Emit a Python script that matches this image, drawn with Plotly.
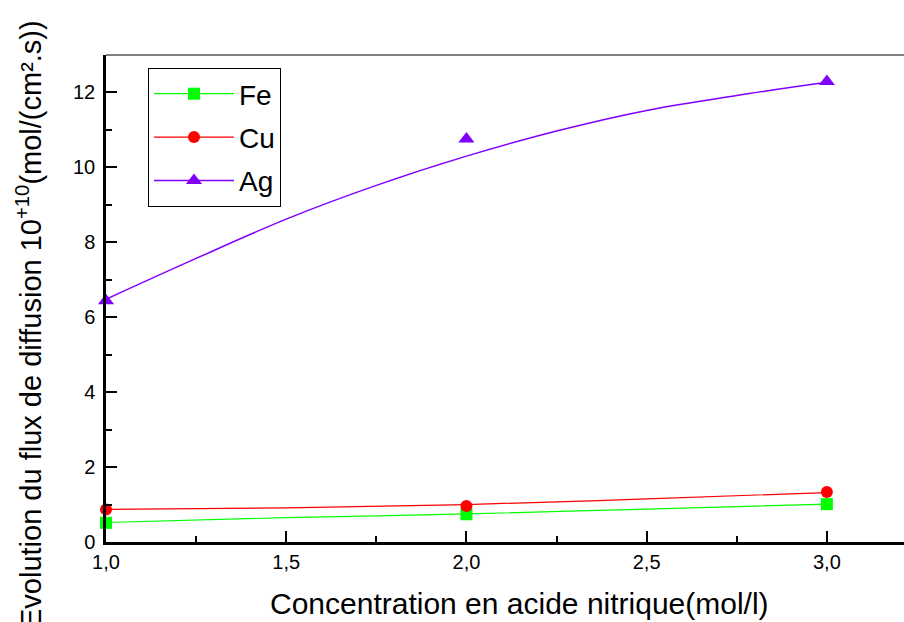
import plotly.graph_objects as go

# measured data
conc = [1.0, 2.0, 3.0]
fe = [0.51, 0.74, 1.01]
cu = [0.87, 0.96, 1.335]
ag = [6.44, 10.76, 12.29]

# fitted curves
fit_x_small = [1.0, 1.5, 2.0, 2.5, 3.0]
fe_fit = [0.52, 0.65, 0.75, 0.88, 1.01]
cu_fit = [0.87, 0.91, 1.00, 1.15, 1.32]
fit_x_ag = [1.0, 1.25, 1.5, 1.75, 2.0, 2.25, 2.5, 2.75, 3.0]
ag_fit = [6.48, 7.57, 8.62, 9.52, 10.30, 10.97, 11.52, 11.92, 12.27]

names = ["Fe", "Cu", "Ag"]
colors = ["#00ff00", "#ff0000", "#8000ff"]
symbols = ["square", "circle", "triangle-up"]
msizes = [12, 12, 14]
lwidths = [1.2, 1.2, 1.5]

series = [fe, cu, ag]
fits = [(fit_x_small, fe_fit), (fit_x_small, cu_fit), (fit_x_ag, ag_fit)]

FONT = "Liberation Sans, Arial, sans-serif"

fig = go.Figure()
for i, name in enumerate(names):
    fx, fy = fits[i]
    fig.add_trace(go.Scatter(
        x=fx, y=fy, mode="lines", line=dict(color=colors[i], width=lwidths[i], shape="spline"),
        showlegend=False, hoverinfo="skip"))
    fig.add_trace(go.Scatter(
        x=conc, y=series[i], mode="markers",
        marker=dict(symbol=symbols[i], size=msizes[i], color=colors[i], line=dict(width=0)),
        showlegend=False, cliponaxis=False))
    # legend entry (line + marker)
    fig.add_trace(go.Scatter(
        x=[None], y=[None], mode="lines+markers", name=name, legendgroup=name,
        line=dict(color=colors[i], width=lwidths[i]),
        marker=dict(symbol=symbols[i], size=msizes[i], color=colors[i], line=dict(width=0))))

L, T, B = 106, 55, 80
W, H = 904, 622
plot_w = W - L
plot_h = H - T - B

fig.update_layout(
    width=W, height=H,
    margin=dict(l=L, r=0, t=T, b=B),
    paper_bgcolor="white", plot_bgcolor="white",
    separators=", ",
    font=dict(family=FONT, color="black", size=20),
    legend=dict(
        x=(148 - L) / plot_w, y=(H - B - 68) / plot_h, xanchor="left", yanchor="top",
        bordercolor="black", borderwidth=1, bgcolor="white",
        font=dict(size=28, family=FONT), tracegroupgap=4, itemwidth=80,
    ),
    xaxis=dict(
        range=[1.0, 3.214], tick0=1.0, dtick=0.5, tickformat=".1f",
        ticks="inside", ticklen=11, tickwidth=2, tickcolor="black",
        showline=True, linecolor="black", linewidth=2.5,
        showgrid=False, zeroline=False,
        tickfont=dict(size=20),
        minor=dict(dtick=0.25, ticks="inside", ticklen=6, tickwidth=2, tickcolor="black", showgrid=False),
    ),
    yaxis=dict(
        range=[0, 13], tick0=0, dtick=2,
        ticks="inside", ticklen=11, tickwidth=2, tickcolor="black",
        showline=True, linecolor="black", linewidth=2.5,
        showgrid=False, zeroline=False,
        tickfont=dict(size=20), ticklabelstandoff=4,
        minor=dict(dtick=1, ticks="inside", ticklen=6, tickwidth=2, tickcolor="black", showgrid=False),
    ),
    shapes=[dict(type="line", xref="paper", yref="paper", x0=0, x1=1, y0=1, y1=1,
                 line=dict(color="#555555", width=1.5))],
    annotations=[
        dict(text="Concentration en acide nitrique(mol/l)", xref="paper", yref="paper",
             x=(519 - L) / plot_w, y=0, xanchor="center", yanchor="middle", yshift=-61,
             showarrow=False, font=dict(size=30, family=FONT)),
        dict(text="Evolution du flux de diffusion 10<sup>+10</sup>(mol/(cm².s))", xref="paper", yref="paper",
             x=0, y=(H - B - 324) / plot_h, xanchor="center", yanchor="middle", xshift=-77,
             textangle=-90, showarrow=False, font=dict(size=29, family=FONT)),
    ],
)

fig.write_html(
    "out.html",
    config={"displayModeBar": False},
    post_script="document.body.style.margin='0';document.body.style.overflow='hidden';",
)
